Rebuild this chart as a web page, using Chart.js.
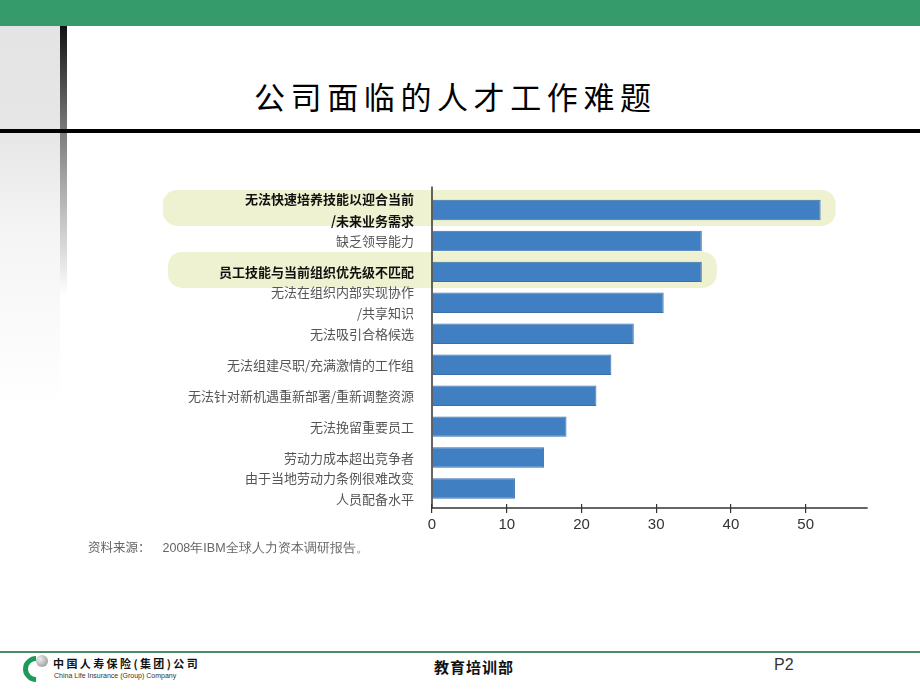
<!DOCTYPE html>
<html>
<head>
<meta charset="utf-8">
<script src="https://cdn.jsdelivr.net/npm/chart.js@4.4.1/dist/chart.umd.min.js"></script>
<style>
  html, body { margin: 0; padding: 0; background: #fff; }
  body { width: 920px; height: 690px; position: relative; overflow: hidden;
         font-family: 'Noto Sans CJK SC', 'Noto Sans', sans-serif; }
  .topbar { position: absolute; left: 0; top: 0; width: 920px; height: 26px; background: #359b6b; }
  .sidepanel { position: absolute; left: 0; top: 26px; width: 60px; height: 380px;
               background: linear-gradient(#e4e4e4 0, #e6e6e6 104px, #f4f4f4 200px, #fff 380px); }
  .sidebar { position: absolute; left: 60px; top: 26px; width: 7px; height: 270px;
             background: linear-gradient(#111 0, #777 100px, #aaa 160px, #fff 270px); }
  .rule { position: absolute; left: 0; top: 129px; width: 920px; height: 4px; background: #000; }
  .title { position: absolute; left: 254px; top: 74px; font-size: 31px; letter-spacing: 5.6px;
           color: #000; line-height: 44px; white-space: nowrap; }
  .chartbox { position: absolute; left: 150px; top: 180px; width: 740px; height: 360px; }
  .source { position: absolute; left: 88px; top: 537px; font-size: 12.5px; color: #666; white-space: nowrap; }
  .source span { margin-left: 12px; font-family: 'Liberation Sans Narrow', 'Liberation Sans', sans-serif; }
  .footline { position: absolute; left: 0; top: 651px; width: 920px; height: 2px; background: #4a8a6a; }
  .logo { position: absolute; left: 23px; top: 656px; width: 16px; height: 16px;
          border: 5px solid #1d9a5a; border-right-color: transparent; border-top-color: transparent;
          border-radius: 50%; transform: rotate(45deg); }
  .ball { position: absolute; left: 36px; top: 655px; width: 12px; height: 12px; border-radius: 50%;
          background: radial-gradient(circle at 35% 35%, #eee, #888); }
  .cname { position: absolute; left: 53px; top: 657px; font-size: 11px; font-weight: bold; color: #111;
           letter-spacing: 2.4px; white-space: nowrap; line-height: 13px; }
  .ename { position: absolute; left: 54px; top: 672px; font-size: 7px; color: #333; white-space: nowrap;
           font-family: 'Liberation Sans', sans-serif; }
  .dept { position: absolute; left: 434px; top: 657px; font-size: 15px; font-weight: bold; color: #111;
          letter-spacing: 1px; white-space: nowrap; line-height: 20px; }
  .page { position: absolute; left: 774px; top: 656px; font-size: 16px; color: #333;
          font-family: 'Liberation Sans Narrow', 'Liberation Sans', sans-serif; }
</style>
</head>
<body>
<div class="topbar"></div>
<div class="sidepanel"></div>
<div class="sidebar"></div>
<div class="rule"></div>
<div class="title">公司面临的人才工作难题</div>

<div class="chartbox"><canvas id="talentChart" width="740" height="360"></canvas></div>

<div class="source">资料来源：<span>2008年IBM全球人力资本调研报告。</span></div>

<div class="footline"></div>
<div class="logo"></div>
<div class="ball"></div>
<div class="cname">中国人寿保险(集团)公司</div>
<div class="ename">China Life Insurance (Group) Company</div>
<div class="dept">教育培训部</div>
<div class="page">P2</div>

<script>
// Chart data
const categories = [
    ['无法快速培养技能以迎合当前', '/未来业务需求'],
    '缺乏领导能力',
    '员工技能与当前组织优先级不匹配',
    ['无法在组织内部实现协作', '/共享知识'],
    '无法吸引合格候选',
    '无法组建尽职/充满激情的工作组',
    '无法针对新机遇重新部署/重新调整资源',
    '无法挽留重要员工',
    '劳动力成本超出竞争者',
    ['由于当地劳动力条例很难改变', '人员配备水平']
];
const values = [52, 36.1, 36.1, 31, 27, 24, 22, 18, 15, 11.1];
const highlighted = [true, false, true, false, false, false, false, false, false, false];
const xTicks = [0, 10, 20, 30, 40, 50];

// rounded highlight boxes behind the bold categories
const highlightPlugin = {
    id: 'highlightBoxes',
    beforeDraw(chart) {
        const ctx = chart.ctx;
        const x = chart.scales.x;
        const y = chart.scales.y;
        const lefts = { 0: 269, 2: 264 }; // distance left of the axis
        ctx.save();
        ctx.fillStyle = '#eef2d0';
        highlighted.forEach((on, i) => {
            if (!on) return;
            const cy = y.getPixelForValue(i);
            const left = chart.chartArea.left - lefts[i];
            const right = x.getPixelForValue(values[i]) + 15;
            ctx.beginPath();
            ctx.roundRect(left, cy - 20, right - left, 36, 14);
            ctx.fill();
        });
        ctx.restore();
    }
};

// axis lines (a bit longer than the plot area, as in the slide)
const axisLinesPlugin = {
    id: 'axisLines',
    afterDraw(chart) {
        const { ctx, chartArea } = chart;
        ctx.save();
        ctx.strokeStyle = '#333';
        ctx.lineWidth = 1.5;
        ctx.beginPath();
        ctx.moveTo(chartArea.left, chartArea.top - 8);
        ctx.lineTo(chartArea.left, chartArea.bottom + 4);
        ctx.lineTo(chartArea.right, chartArea.bottom + 4);
        ctx.stroke();
        ctx.restore();
    }
};

const talentCtx = document.getElementById('talentChart').getContext('2d');
const talentChart = new Chart(talentCtx, {
    type: 'bar',
    data: {
        labels: categories,
        datasets: [{
            data: values,
            backgroundColor: '#4080c2',
            borderColor: '#3a6fab',
            borderWidth: 1,
            categoryPercentage: 1,
            barPercentage: 0.66
        }]
    },
    options: {
        indexAxis: 'y',
        responsive: false,
        animation: false,
        layout: { autoPadding: false, padding: { top: 14.5, right: 22.3, bottom: 0, left: 0 } },
        plugins: {
            legend: { display: false },
            tooltip: { enabled: false }
        },
        scales: {
            x: {
                min: 0,
                max: 58.3,
                border: { display: false },
                grid: { drawOnChartArea: false, tickLength: 9, color: '#333', lineWidth: 1.2 },
                afterBuildTicks: axis => {
                    axis.ticks = xTicks.map(v => ({ value: v }));
                },
                afterFit: scale => {
                    scale.height = 36;
                    scale.paddingLeft = 0;
                    scale.paddingRight = 0;
                },
                ticks: {
                    padding: 3,
                    color: '#333',
                    font: { family: "'Liberation Sans Narrow', 'Liberation Sans', sans-serif", size: 15 }
                }
            },
            y: {
                border: { display: false },
                grid: { display: false },
                afterFit: scale => {
                    scale.width = 282;
                    scale.paddingTop = 0;
                    scale.paddingBottom = 0;
                },
                ticks: {
                    padding: 10,
                    autoSkip: false,
                    color: c => highlighted[c.index] ? '#111' : '#555',
                    font: c => ({
                        family: "'Noto Sans CJK SC', sans-serif",
                        size: 13,
                        weight: highlighted[c.index] ? 'bold' : 'normal',
                        lineHeight: 1.65
                    })
                }
            }
        }
    },
    plugins: [highlightPlugin, axisLinesPlugin]
});
</script>
</body>
</html>
